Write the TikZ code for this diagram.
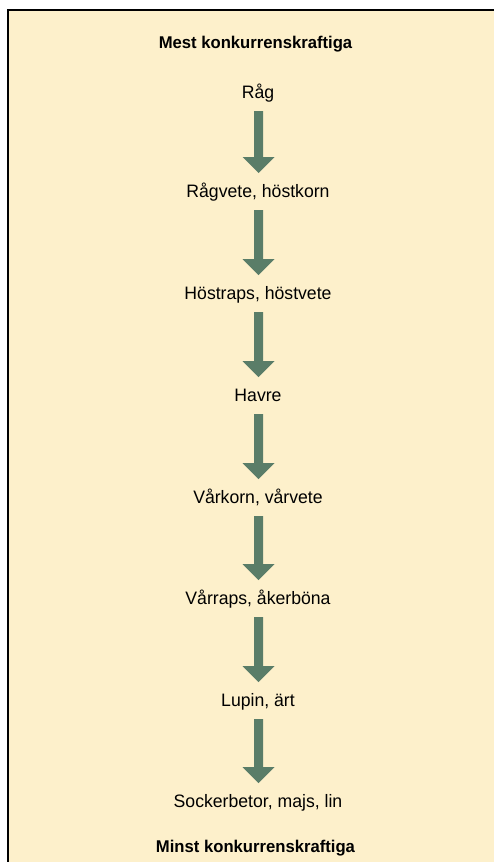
\documentclass[tikz,border=0pt]{standalone}
\usepackage{fontspec}
\usetikzlibrary{calc}
\setmainfont{Liberation Sans}[FakeStretch=0.98]
\definecolor{bgfill}{HTML}{FDF0CB}
\definecolor{arrowgreen}{HTML}{5A7D68}
\begin{document}
\begin{tikzpicture}[x=1pt,y=-1pt,
  item/.style={font=\fontsize{18}{20}\selectfont, inner sep=0pt, anchor=base},
  heading/.style={font=\fontsize{17}{20}\selectfont\bfseries, inner sep=0pt, anchor=base}]
\useasboundingbox (0,0) rectangle (493,862);
\fill[white] (0,0) rectangle (493,862);
\draw[line width=1.8pt, fill=bgfill] (8,10) rectangle (500,875);
\node[heading] (top) at (255.5,48) {Mest konkurrenskraftiga};
\node[item] (n1) at (258,98) {Råg};
\node[item] (n2) at (258,197) {Rågvete, höstkorn};
\node[item] (n3) at (258,299) {Höstraps, höstvete};
\node[item] (n4) at (258,401) {Havre};
\node[item] (n5) at (258,503) {Vårkorn, vårvete};
\node[item] (n6) at (258,604) {Vårraps, åkerböna};
\node[item] (n7) at (258,706) {Lupin, ärt};
\node[item] (n8) at (258,807) {Sockerbetor, majs, lin};
\node[heading] (bot) at (255.5,852) {Minst konkurrenskraftiga};
\foreach \a/\b in {1/2,2/3,3/4,4/5,5/6,6/7,7/8}{
  \coordinate (s\a) at ($(n\a.base)+(0.5,13)$);
  \coordinate (e\a) at ($(n\b.base)+(0.5,-24)$);
  \fill[arrowgreen] ($(s\a)+(-4.5,0)$) -- ($(e\a)+(-4.5,-16)$) -- ($(e\a)+(-16,-16)$) -- (e\a)
     -- ($(e\a)+(16,-16)$) -- ($(e\a)+(4.5,-16)$) -- ($(s\a)+(4.5,0)$) -- cycle;
}
\end{tikzpicture}
\end{document}
